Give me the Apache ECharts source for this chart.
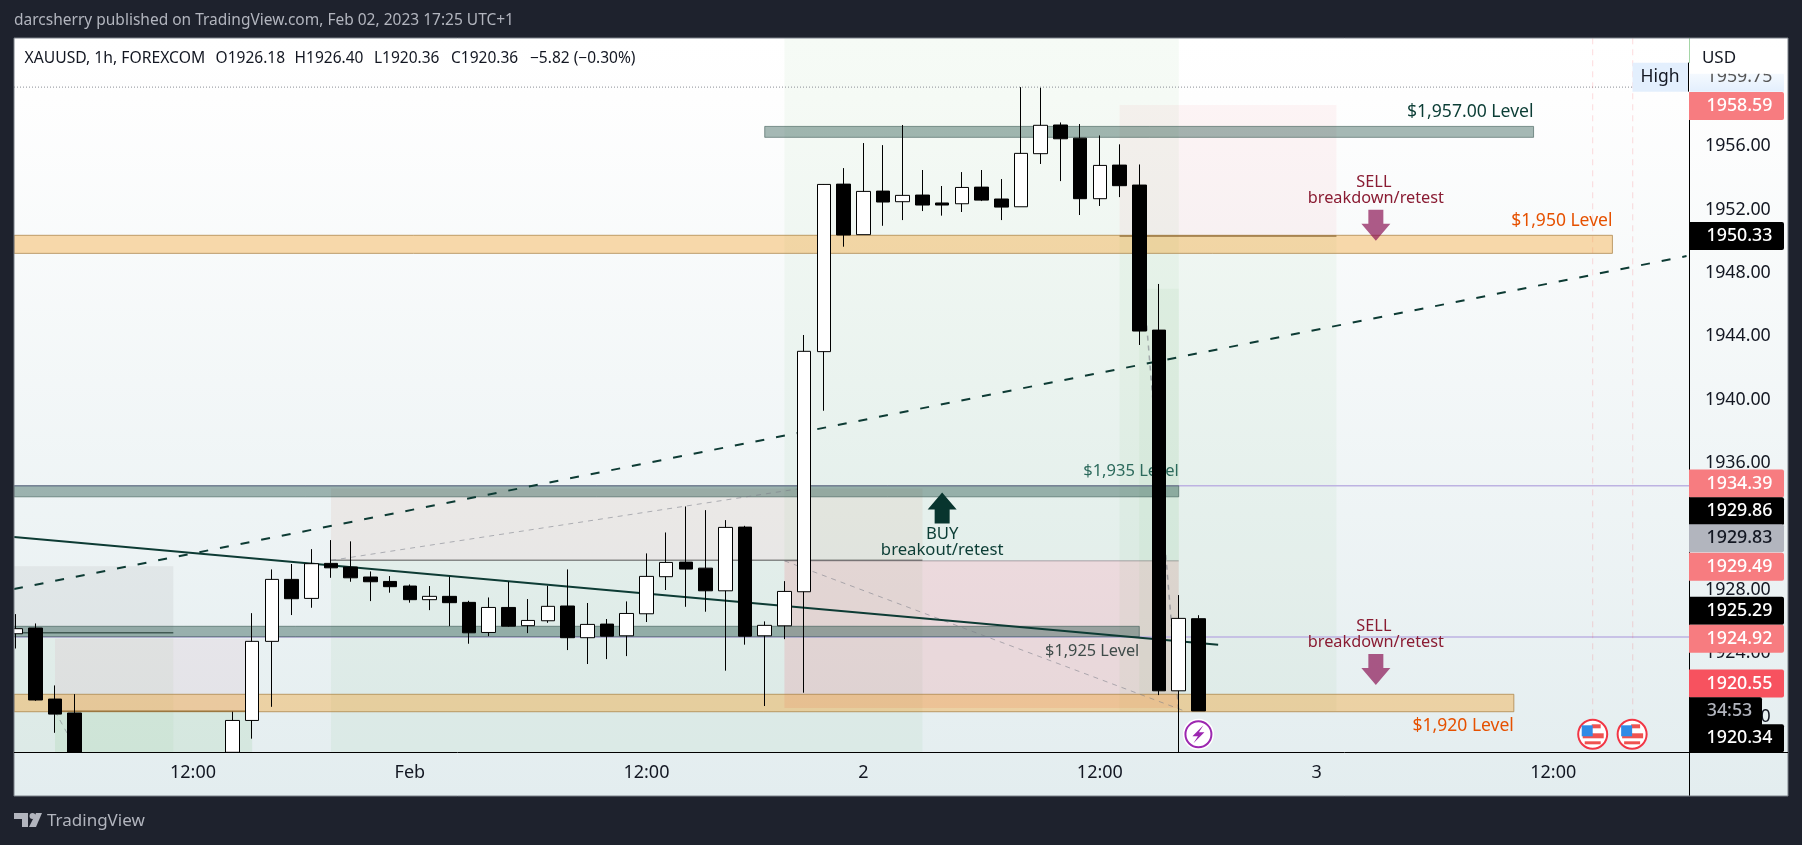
<!DOCTYPE html>
<html>
<head>
<meta charset="utf-8">
<style>html,body{margin:0;padding:0;background:#1e222d}#main{width:1802px;height:845px}</style>
<script src="https://cdn.jsdelivr.net/npm/echarts@6/dist/echarts.min.js"></script>
</head>
<body>
<div id="main"></div>
<script>
// candles. bars 4-10 sit below the visible price range,
// bars 3, 11 and 59 run off the bottom so they stop at the axis edge
const barIndex = [0,1,2,3,11,12,13,14,15,16,17,18,19,20,21,22,23,24,25,26,27,28,29,30,31,32,33,34,35,36,37,38,39,40,41,42,43,44,45,46,47,48,49,50,51,52,53,54,55,56,57,58,59,60];
const opens = [1925.23,1925.59,1921.11,1920.23,1917.75,1919.76,1924.75,1928.66,1927.46,1929.67,1929.44,1928.81,1928.53,1928.24,1927.38,1927.59,1927.21,1925.31,1926.89,1925.74,1926.05,1926.98,1924.98,1925.84,1925.1,1926.49,1928.83,1929.75,1929.37,1927.94,1931.96,1925.1,1925.73,1927.88,1943.03,1953.6,1950.41,1953.16,1952.49,1952.91,1952.41,1952.36,1953.41,1952.66,1952.17,1955.52,1957.33,1956.5,1952.68,1954.8,1953.54,1944.39,1921.63,1926.18];
const closes = [1925.55,1921.05,1920.16,1917.75,1919.76,1924.75,1928.66,1927.44,1929.65,1929.39,1928.76,1928.51,1928.2,1927.38,1927.59,1927.19,1925.29,1926.89,1925.71,1926.07,1926.96,1924.98,1925.82,1925.08,1926.51,1928.85,1929.73,1929.31,1927.94,1931.94,1925.08,1925.76,1927.9,1943.05,1953.58,1950.39,1953.14,1952.47,1952.89,1952.28,1952.28,1953.39,1952.59,1952.15,1955.54,1957.31,1956.46,1952.68,1954.78,1953.5,1944.33,1921.63,1926.2,1920.36];
const lows = [1924.3,1921,1918.98,1917.75,1917.75,1918.61,1920.62,1926.41,1926.87,1928.76,1928.51,1927.29,1927.82,1927.19,1926.72,1925.71,1924.6,1925.08,1925.67,1925.27,1925.92,1924.2,1923.32,1923.63,1923.82,1925.97,1927.99,1926.93,1926.62,1922.9,1924.54,1920.67,1924.89,1921.51,1939.3,1949.65,1950.41,1950.97,1951.33,1951.9,1951.61,1951.84,1952.53,1951.33,1952.17,1954.87,1953.79,1951.65,1952.22,1952.78,1943.45,1921.36,1917.75,1920.36];
const highs = [1926.47,1925.88,1921.97,1921.42,1920.31,1926.53,1929.29,1929.63,1930.57,1931.14,1931.06,1929.16,1928.87,1928.34,1928.24,1928.83,1927.31,1927.52,1928.51,1927.42,1928.26,1929.29,1927.17,1926.16,1927.27,1930.3,1931.62,1933.26,1933.03,1932.4,1932.04,1926.01,1928.55,1944.08,1953.6,1954.61,1956.19,1956.06,1957.33,1954.49,1953.48,1954.36,1954.49,1953.92,1959.72,1959.68,1957.49,1957.39,1956.67,1956.11,1954.84,1947.3,1927.67,1926.4];

const xTickBars = [9,20,32,43,55,66,78];
const xTickLabels = ['12:00','Feb','12:00','2','12:00','3','12:00'];
const yTicks = [1956,1952,1948,1944,1940,1936,1932,1928,1924,1920];

// visible range of both axes
const xMin = -0.081, xMax = 84.91;
const yMin = 1917.75, yMax = 1962.8;

// price tags on the axis, top to bottom
const tagTexts = ['1958.59','1950.33','1934.39','1929.86','1929.83','1929.49','1925.29','1924.92','1920.55','1920.34'];
const tagValues = [1958.59,1950.33,1934.39,1929.86,1929.83,1929.49,1925.29,1924.92,1920.55,1920.34];
const tagNudge = [1,0,-5,-49,-22.5,0.5,-22,0,-24.4,27];
const tagKinds = ['loss','last','loss','last','grey','loss','last','loss','stop','last'];

// long/short position boxes: bars, entry, red edge, green edge
const posBars = [[xMin,8],[2,12],[16,46],[39,59],[56,67]];
const posEntry = [1925.29,1920.34,1929.86,1929.83,1950.33];
const posRed = [1929.49,1924.92,1934.39,1920.55,1958.59];
const posGreen = [yMin,yMin,yMin,yMax,1920.34];

// horizontal bands
const bandBars = [[38,77],[xMin,81],[xMin,59],[xMin,57],[xMin,76]];
const bandTop = [1957.24,1950.37,1934.57,1925.7,1921.41];
const bandBottom = [1956.55,1949.23,1933.87,1925.04,1920.31];
const bandKind = ['g','o','g','g','o'];

const FONT = '"Noto Sans", sans-serif';
const chart = echarts.init(document.getElementById('main'));

function line(api, a, b, style) {
    const p = api.coord(a), q = api.coord(b);
    return {type: 'line', shape: {x1: p[0], y1: p[1], x2: q[0], y2: q[1]}, style: style};
}

function box(api, x0, x1, p0, p1, style) {
    const a = api.coord([x0, p0]), b = api.coord([x1, p1]);
    return {type: 'rect', shape: {x: a[0], y: a[1], width: b[0] - a[0], height: b[1] - a[1]}, style: style};
}

function label(api, bar, price, text, color, align, size) {
    const p = api.coord([bar, price]);
    return {type: 'text', style: {text: text, x: p[0], y: p[1], fill: color, align: align, verticalAlign: 'middle', font: size + 'px ' + FONT}};
}

function arrow(api, bar, price, dir, color) {
    // price = tip of the arrow, dir 1 points up, -1 down
    const t = api.coord([bar, price]);
    const s = dir;
    return {type: 'polygon', shape: {points: [
        [t[0], t[1]], [t[0] + 14.5, t[1] + s * 17], [t[0] + 7.5, t[1] + s * 17], [t[0] + 7.5, t[1] + s * 31],
        [t[0] - 7.5, t[1] + s * 31], [t[0] - 7.5, t[1] + s * 17], [t[0] - 14.5, t[1] + s * 17]
    ]}, style: {fill: color}};
}

// everything that lies behind the candles
function renderBelow(params, api) {
    const kids = [];
    const redFill = ['rgba(120,110,110,0.09)', 'rgba(200,90,130,0.08)', 'rgba(200,110,90,0.09)', 'rgba(242,54,69,0.13)', 'rgba(242,54,69,0.05)'];
    const greenFill = ['rgba(76,175,80,0.05)', 'rgba(76,175,80,0.10)', 'rgba(76,175,80,0.06)', 'rgba(76,175,80,0.05)', 'rgba(76,175,80,0.05)'];
    const entryColor = ['rgba(60,70,65,0.8)', 'rgba(70,60,40,0.85)', 'rgba(70,70,70,0.6)', 'rgba(90,80,90,0.3)', 'rgba(60,50,40,0.8)'];
    posBars.forEach(function (b, i) {
        kids.push(box(api, b[0], b[1], posRed[i], posEntry[i], {fill: redFill[i]}));
        kids.push(box(api, b[0], b[1], posEntry[i], posGreen[i], {fill: greenFill[i]}));
        kids.push(line(api, [b[0], posEntry[i]], [b[1], posEntry[i]], {stroke: entryColor[i], lineWidth: 1.5}));
    });
    // the one after the entry of the last box, slightly stronger
    kids.push(box(api, 57, 59, 1947, 1921.4, {fill: 'rgba(76,175,80,0.05)'}));

    const lilac = {stroke: '#bdb2e2', lineWidth: 1.5};
    kids.push(line(api, [xMin, 1934.57], [xMax, 1934.57], lilac));
    kids.push(line(api, [xMin, 1925.02], [xMax, 1925.02], lilac));
    kids.push(line(api, [xMin, 1959.72], [82, 1959.72], {stroke: '#8a8d96', lineWidth: 1, lineDash: [1, 2]}));

    const pale = {stroke: 'rgba(242,54,69,0.18)', lineWidth: 1, lineDash: [6, 5]};
    kids.push(line(api, [80, yMax], [80, 1920], pale));
    kids.push(line(api, [82.03, yMax], [82.03, 1920], pale));

    bandBars.forEach(function (b, i) {
        const g = bandKind[i] === 'g';
        kids.push(box(api, b[0], b[1], bandTop[i], bandBottom[i], {
            fill: g ? 'rgba(20,70,60,0.38)' : 'rgba(245,160,40,0.38)',
            stroke: g ? 'rgba(60,90,85,0.6)' : 'rgba(170,130,70,0.75)', lineWidth: 1
        }));
    });

    const thin = {stroke: 'rgba(120,123,134,0.55)', lineWidth: 1, lineDash: [5, 5]};
    kids.push(line(api, [16, 1929.86], [39.64, 1934.36], thin));
    kids.push(line(api, [39, 1929.83], [59.2, 1920.4], thin));
    kids.push(line(api, [57, 1950.33], [59, 1920.34], {stroke: 'rgba(120,123,134,0.6)', lineWidth: 1.5, lineDash: [5, 5]}));
    kids.push(line(api, [2, 1920.34], [3.15, yMin], thin));

    kids.push(line(api, [xMin, 1931.33], [61, 1924.53], {stroke: '#0d3b34', lineWidth: 2}));
    kids.push(line(api, [xMin, 1928.05], [xMax - 0.15, 1949.06], {stroke: '#0d3b34', lineWidth: 2, lineDash: [9, 12]}));

    kids.push(label(api, 77, 1958.16, '$1,957.00 Level', '#0b3d35', 'right', 17.6));
    kids.push(label(api, 81, 1951.27, '$1,950 Level', '#e65100', 'right', 17.5));
    kids.push(label(api, 59, 1935.49, '$1,935 Level', '#2c6a5c', 'right', 16.5));
    kids.push(label(api, 57, 1924.14, '$1,925 Level', '#3f4c4a', 'right', 16.3));
    kids.push(label(api, 76, 1919.41, '$1,920 Level', '#e65100', 'right', 17.5));

    kids.push(label(api, 68.9, 1953.73, 'SELL', '#8a1c33', 'center', 16.3));
    kids.push(label(api, 69, 1952.72, 'breakdown/retest', '#8a1c33', 'center', 16.3));
    kids.push(arrow(api, 69, 1950.03, -1, 'rgba(136,14,79,0.68)'));
    kids.push(label(api, 68.9, 1925.72, 'SELL', '#8a1c33', 'center', 16.3));
    kids.push(label(api, 69, 1924.69, 'breakdown/retest', '#8a1c33', 'center', 16.3));
    kids.push(arrow(api, 69, 1921.99, -1, 'rgba(136,14,79,0.68)'));
    kids.push(arrow(api, 47, 1934.15, 1, '#08352e'));
    kids.push(label(api, 47, 1931.5, 'BUY', '#0b3d35', 'center', 16.7));
    kids.push(label(api, 47, 1930.51, 'breakout/retest', '#0b3d35', 'center', 16.7));
    return {type: 'group', children: kids};
}

function flag(cx, cy) {
    return {type: 'group', children: [
        {type: 'circle', shape: {cx: cx, cy: cy, r: 14.5}, style: {fill: '#fff', stroke: '#f23645', lineWidth: 2}},
        {type: 'rect', shape: {x: cx - 10, y: cy - 1, width: 21, height: 5}, style: {fill: '#ef5350'}},
        {type: 'rect', shape: {x: cx - 8, y: cy + 7, width: 16, height: 3}, style: {fill: '#ef5350'}},
        {type: 'rect', shape: {x: cx - 1, y: cy - 10, width: 9, height: 4}, style: {fill: '#ef5350'}},
        {type: 'rect', shape: {x: cx - 11, y: cy - 9, width: 11, height: 11}, style: {fill: '#2f8be6'}}
    ]};
}

// tags, icons and the bits over the axis
function renderOver(params, api) {
    const kids = [];
    const fills = {loss: '#f77c80', last: '#000000', grey: '#b2b5be', stop: '#f7525f'};
    const X0 = 1689, W = 95, H = 28;
    const tagFont = '500 17.8px ' + FONT;
    tagTexts.forEach(function (t, i) {
        const y = api.coord([0, tagValues[i]])[1] + tagNudge[i];
        kids.push({type: 'rect', shape: {x: X0, y: y - H / 2, width: W, height: H, r: [0, 2, 2, 0]}, style: {fill: fills[tagKinds[i]]}});
        kids.push({type: 'text', style: {text: t, x: 1739.5, y: y, fill: tagKinds[i] === 'grey' ? '#131722' : '#fff', align: 'center', verticalAlign: 'middle', font: tagFont}});
    });
    // countdown sits between the stacked tags
    const cy = api.coord([0, 1920.34])[1];
    kids.push({type: 'rect', shape: {x: X0, y: cy - H / 2, width: 73, height: H, r: [0, 2, 0, 0]}, style: {fill: '#000'}});
    kids.push({type: 'text', style: {text: '34:53', x: 1729.5, y: cy, fill: '#b2b5be', align: 'center', verticalAlign: 'middle', font: tagFont}});

    // High label and the faded price beside it
    const hy = api.coord([0, 1959.75])[1];
    kids.push({type: 'rect', shape: {x: 1632.5, y: hy - 24, width: 56, height: 29}, style: {fill: '#e3effd'}});
    kids.push({type: 'text', style: {text: 'High', x: 1660, y: hy - 9.5, fill: '#131722', align: 'center', verticalAlign: 'middle', font: '17.5px ' + FONT}});
    kids.push({type: 'line', shape: {x1: 1688.5, y1: hy - 24, x2: 1688.5, y2: hy + 5}, style: {stroke: '#000', lineWidth: 1}});
    kids.push({type: 'rect', shape: {x: X0 + 1, y: hy - 24, width: W - 1, height: 29}, style: {fill: new echarts.graphic.LinearGradient(0, 0, 0, 1, [{offset: 0, color: '#fff'}, {offset: 1, color: '#e3effd'}])}});
    kids.push({type: 'text', style: {text: '1959.75', x: 1739.5, y: hy - 9.5, fill: '#555', align: 'center', verticalAlign: 'middle', font: '17.8px ' + FONT}});
    kids.push({type: 'rect', shape: {x: X0 + 1, y: hy - 40, width: W - 1, height: 27}, style: {fill: '#fff'}});

    // dividend/earnings style icons along the bottom
    const e = api.coord([60, yMin]);
    kids.push({type: 'circle', shape: {cx: e[0], cy: e[1] - 18, r: 15.5}, style: {fill: '#fff'}});
    kids.push({type: 'circle', shape: {cx: e[0], cy: e[1] - 18, r: 13}, style: {fill: '#fff', stroke: '#9c27b0', lineWidth: 2}});
    kids.push({type: 'polygon', shape: {points: [[e[0] + 5, e[1] - 27], [e[0] - 6, e[1] - 16], [e[0] - 0.5, e[1] - 16], [e[0] - 5, e[1] - 9], [e[0] + 6, e[1] - 20], [e[0] + 0.5, e[1] - 20]]}, style: {fill: '#9c27b0'}});
    const f1 = api.coord([80, yMin]), f2 = api.coord([82, yMin]);
    kids.push(flag(f1[0], f1[1] - 18));
    kids.push(flag(f2[0], f2[1] - 18));
    return {type: 'group', children: kids};
}

const candleData = barIndex.map(function (b, i) {
    return [b, opens[i], closes[i], lows[i], highs[i]];
});

function headerPiece(text, x, size) {
    return {type: 'text', z: 20, style: {text: text, x: x, y: 59, fill: '#131722', verticalAlign: 'middle', font: size + 'px ' + FONT}};
}

chart.setOption({
    animation: false,
    backgroundColor: '#1e222d',
    graphic: [
        {type: 'rect', z: -10, shape: {x: 14, y: 38, width: 1774, height: 758}, style: {
            fill: new echarts.graphic.LinearGradient(0, 0, 0, 1, [{offset: 0, color: '#ffffff'}, {offset: 0.08, color: '#fefefe'}, {offset: 1, color: '#e3edef'}])
        }},
        // first candle hangs over the left edge of the panel
        {type: 'rect', z: 19, shape: {x: 0, y: 38, width: 14, height: 758}, style: {fill: '#1e222d'}},
        {type: 'rect', z: 20, shape: {x: 14, y: 38, width: 1774, height: 758}, style: {fill: 'none', stroke: '#7b8089', lineWidth: 1}},
        {type: 'line', z: 20, shape: {x1: 14, y1: 752.5, x2: 1788, y2: 752.5}, style: {stroke: '#000', lineWidth: 1}},
        {type: 'line', z: 1, shape: {x1: 1689.5, y1: 38, x2: 1689.5, y2: 63}, style: {stroke: '#a5d6a7', lineWidth: 1}},
        {type: 'line', z: 1, shape: {x1: 1689.5, y1: 92, x2: 1689.5, y2: 796}, style: {stroke: '#000', lineWidth: 1}},
        {type: 'text', z: 20, style: {text: 'darcsherry published on TradingView.com, Feb 02, 2023 17:25 UTC+1', x: 14, y: 21, fill: '#b2b5be', verticalAlign: 'middle', font: '15.5px ' + FONT}},
        headerPiece('XAUUSD, 1h, FOREXCOM', 24.5, 15.7),
        headerPiece('O1926.18', 215.6, 15.5),
        headerPiece('H1926.40', 294.6, 15.5),
        headerPiece('L1920.36', 374, 15.5),
        headerPiece('C1920.36', 451, 15.5),
        headerPiece('\u22125.82 (\u22120.30%)', 530, 15.5),
        {type: 'text', z: 20, style: {text: 'USD', x: 1719, y: 58, fill: '#131722', align: 'center', verticalAlign: 'middle', font: '17px ' + FONT}},
        {type: 'text', z: 20, style: {text: 'TradingView', x: 47, y: 821, fill: '#b2b5be', verticalAlign: 'middle', font: '17px ' + FONT}},
        {type: 'polygon', z: 20, shape: {points: [[14, 813], [28, 813], [28, 827], [22, 827], [22, 819], [14, 819]]}, style: {fill: '#b2b5be'}},
        {type: 'circle', z: 20, shape: {cx: 32.5, cy: 816, r: 3}, style: {fill: '#b2b5be'}},
        {type: 'polygon', z: 20, shape: {points: [[36, 813], [42, 813], [36, 827], [29, 827]]}, style: {fill: '#b2b5be'}}
    ],
    grid: {left: 14, top: 38.3, width: 1675.5, height: 714, containLabel: false},
    xAxis: {
        type: 'value', min: xMin, max: xMax,
        splitLine: {show: false},
        axisLine: {show: false},
        axisTick: {show: false},
        axisLabel: {
            customValues: xTickBars, margin: 12, color: '#131722', fontSize: 18, fontFamily: FONT,
            formatter: function (v) { return xTickLabels[xTickBars.indexOf(v)]; }
        }
    },
    yAxis: {
        type: 'value', position: 'right', min: yMin, max: yMax, scale: true,
        splitLine: {show: false},
        axisLine: {show: false},
        axisTick: {show: false},
        axisLabel: {
            customValues: yTicks, margin: 15.5, color: '#131722', fontSize: 17.8, fontFamily: FONT,
            formatter: function (v) { return v.toFixed(2); }
        }
    },
    series: [
        {type: 'custom', z: 3, data: [[0, 1930]], renderItem: renderBelow, silent: true},
        {
            type: 'candlestick', z: 5, barWidth: 14, data: candleData,
            encode: {x: 0, y: [1, 2, 3, 4]},
            itemStyle: {color: '#ffffff', color0: '#000000', borderColor: '#000000', borderColor0: '#000000', borderWidth: 1}
        },
        {type: 'custom', z: 10, data: [[0, 1930]], renderItem: renderOver, silent: true}
    ]
});
</script>
</body>
</html>
